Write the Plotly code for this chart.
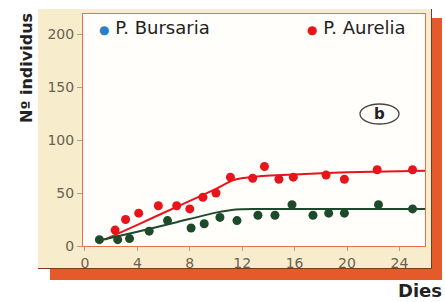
import plotly.graph_objects as go

# ---- data ----
aurelia_days = [2.3, 3.1, 4.1, 5.6, 7.0, 8.0, 9.0, 10.0, 11.1, 12.8, 13.7, 14.8, 15.9, 18.4, 19.8, 22.3, 25.0]
aurelia_vals = [15, 25, 31, 38, 38, 35, 46, 50, 65, 64, 75, 63, 65, 67, 63, 72, 72]
bursaria_days = [1.1, 2.5, 3.4, 4.9, 6.3, 8.1, 9.1, 10.3, 11.6, 13.2, 14.5, 15.8, 17.4, 18.6, 19.8, 22.4, 25.0]
bursaria_vals = [6, 6, 7, 14, 24, 17, 21, 27, 24, 29, 29, 39, 29, 31, 31, 39, 35]

aurelia_fit_days = [1.5, 4, 7, 10, 11.3, 13, 16, 20, 24, 26]
aurelia_fit_vals = [6, 20, 37, 54, 62, 65.5, 67.5, 69.5, 70.5, 71]
bursaria_fit_days = [1.0, 4, 7, 10, 11.5, 13, 18, 26]
bursaria_fit_vals = [5, 13.5, 22.5, 31.5, 34.5, 35, 35, 35]

x_ticks = [0, 4, 8, 12, 16, 20, 24]
y_ticks = [0, 50, 100, 150, 200]

RED = "#e8141c"
GREEN = "#1e4a2c"
BLUE = "#2a80c6"
BEIGE = "#f7edcc"
ORANGE = "#e55a2a"
BORDER = "#e87050"
TICKCOL = "#6a6050"

fig = go.Figure()
fig.add_trace(go.Scatter(x=aurelia_fit_days, y=aurelia_fit_vals, mode="lines",
                         line=dict(color=RED, width=2, shape="spline", smoothing=0.6),
                         showlegend=False, hoverinfo="skip"))
fig.add_trace(go.Scatter(x=bursaria_fit_days, y=bursaria_fit_vals, mode="lines",
                         line=dict(color=GREEN, width=2, shape="spline", smoothing=0.6),
                         showlegend=False, hoverinfo="skip"))
fig.add_trace(go.Scatter(x=aurelia_days, y=aurelia_vals, mode="markers",
                         marker=dict(color=RED, size=9), name="P. Aurelia", showlegend=False,
                         cliponaxis=False))
fig.add_trace(go.Scatter(x=bursaria_days, y=bursaria_vals, mode="markers",
                         marker=dict(color=GREEN, size=9), name="P. Bursaria", showlegend=False,
                         cliponaxis=False))

L, R, T, B = 83, 425, 14, 246
W, H = 445, 302
pw, ph = R - L, B - T

def px(x):
    return (x - L) / pw

def py(y):
    return (B - y) / ph

shapes = [
    # orange shadow
    dict(type="rect", xref="paper", yref="paper", x0=px(50), x1=px(442), y0=py(280), y1=py(266),
         fillcolor=ORANGE, line=dict(width=0), layer="below"),
    dict(type="rect", xref="paper", yref="paper", x0=px(428), x1=px(442), y0=py(280), y1=py(18),
         fillcolor=ORANGE, line=dict(width=0), layer="below"),
    # beige panel
    dict(type="rect", xref="paper", yref="paper", x0=px(38), x1=px(431), y0=py(268), y1=py(9),
         fillcolor=BEIGE, line=dict(width=0), layer="below"),
    dict(type="line", xref="paper", yref="paper", x0=px(38), x1=px(431.5), y0=py(268.5), y1=py(268.5),
         line=dict(color="#7a3a20", width=1), layer="below"),
    dict(type="line", xref="paper", yref="paper", x0=px(431.5), x1=px(431.5), y0=py(268.5), y1=py(9),
         line=dict(color="#7a3a20", width=1), layer="below"),
    # white plot area
    dict(type="rect", xref="paper", yref="paper", x0=0, x1=1, y0=0, y1=1,
         fillcolor="#fffefa", line=dict(width=0), layer="below"),
    # b ellipse
    dict(type="circle", xref="paper", yref="paper", x0=px(360), x1=px(399), y0=py(124), y1=py(104),
         line=dict(color="#444444", width=1.3), fillcolor="rgba(0,0,0,0)"),
]

annotations = [
    dict(xref="paper", yref="paper", x=px(97), y=py(28), xanchor="left", yanchor="middle",
         showarrow=False,
         text=f"<span style='color:{BLUE};font-size:12px'>●</span> P. Bursaria",
         font=dict(family="DejaVu Sans", size=18, color="#222222")),
    dict(xref="paper", yref="paper", x=px(305), y=py(28), xanchor="left", yanchor="middle",
         showarrow=False,
         text=f"<span style='color:{RED};font-size:12px'>●</span> P. Aurelia",
         font=dict(family="DejaVu Sans", size=18, color="#222222")),
    dict(xref="paper", yref="paper", x=px(379.5), y=py(114), xanchor="center", yanchor="middle",
         showarrow=False, text="<b>b</b>",
         font=dict(family="DejaVu Sans", size=15, color="#222222")),
    dict(xref="paper", yref="paper", x=px(26), y=py(68), xanchor="center", yanchor="middle",
         showarrow=False, text="<b>Nº individus</b>", textangle=-90,
         font=dict(family="DejaVu Sans", size=16, color="#222222")),
    dict(xref="paper", yref="paper", x=px(444), y=py(290), xanchor="right", yanchor="middle",
         showarrow=False, text="<b>Dies</b>",
         font=dict(family="DejaVu Sans", size=18, color="#222222")),
]

fig.update_layout(
    width=W, height=H,
    margin=dict(l=L, r=W - R, t=T, b=H - B, pad=0),
    paper_bgcolor="white",
    plot_bgcolor="rgba(0,0,0,0)",
    shapes=shapes,
    annotations=annotations,
    showlegend=False,
    xaxis=dict(range=[-0.15, 25.95], tickvals=x_ticks, ticks="outside", ticklen=4,
               tickcolor="#b0a090", showgrid=False, zeroline=False,
               showline=True, linecolor=BORDER, linewidth=1, mirror=True,
               tickfont=dict(family="DejaVu Sans", size=14, color=TICKCOL)),
    yaxis=dict(range=[0, 219], tickvals=y_ticks, ticks="outside", ticklen=5,
               tickcolor="#b0a090", showgrid=False, zeroline=False,
               showline=True, linecolor=BORDER, linewidth=1, mirror=True,
               tickfont=dict(family="DejaVu Sans", size=14, color=TICKCOL)),
)

fig.write_html("out.html", config={"displayModeBar": False},
               post_script="document.body.style.margin='0';document.body.style.overflow='hidden';")
